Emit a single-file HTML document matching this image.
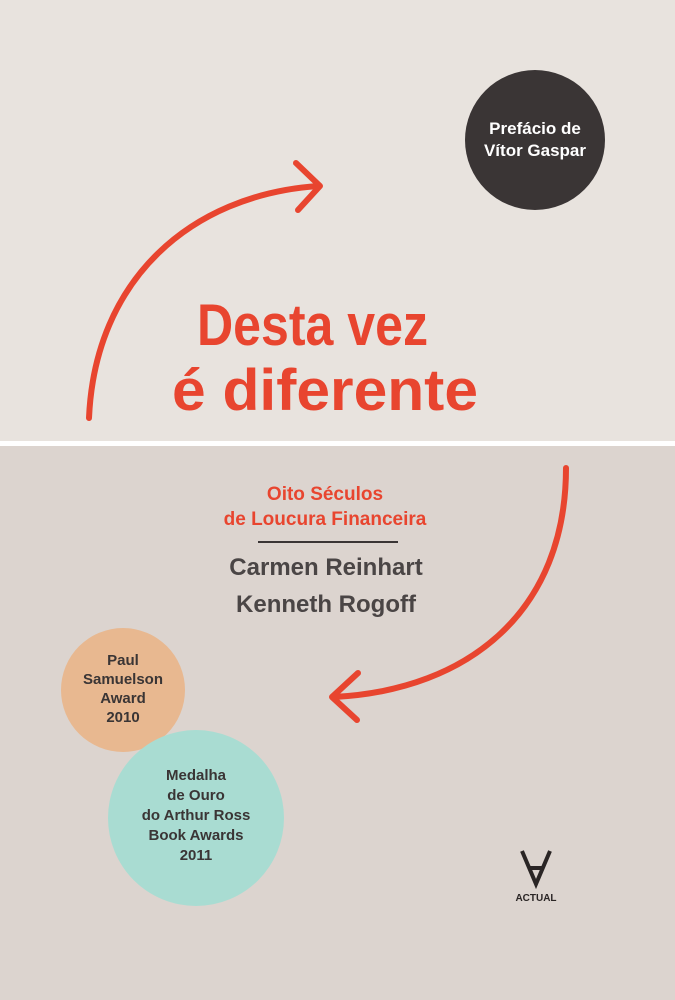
<!DOCTYPE html>
<html><head><meta charset="utf-8"><style>
body{margin:0;width:675px;height:1000px;overflow:hidden}
svg{display:block}
text{font-family:"Liberation Sans","DejaVu Sans",sans-serif;font-weight:bold}
</style></head><body>
<svg width="675" height="1000" viewBox="0 0 675 1000">
<rect width="675" height="441" fill="#e8e3de"/>
<rect y="441" width="675" height="5" fill="#ffffff"/>
<rect y="446" width="675" height="554" fill="#dcd4cf"/>
<g fill="none" stroke="#e8452f" stroke-width="6" stroke-linecap="round" stroke-linejoin="round">
<path d="M89 418 C95 280 190 195 318 186"/>
<path d="M296 163 L320 186 L298 210"/>
<path d="M566 468 C566 610 470 690 334 697"/>
<path d="M358 673 L332 697 L357 720"/>
</g>
<circle cx="535" cy="140" r="70" fill="#3a3535"/>
<text x="535" y="134" fill="#fff" font-size="17" text-anchor="middle">Prefácio de</text>
<text x="535" y="156" fill="#fff" font-size="17" text-anchor="middle">Vítor Gaspar</text>
<text x="197" y="345" fill="#e8452f" font-size="58" textLength="231" lengthAdjust="spacingAndGlyphs">Desta vez</text>
<text x="172" y="410" fill="#e8452f" font-size="58" textLength="306" lengthAdjust="spacingAndGlyphs">é diferente</text>
<text x="325" y="500" fill="#e8452f" font-size="19" text-anchor="middle">Oito Séculos</text>
<text x="325" y="525" fill="#e8452f" font-size="19" text-anchor="middle">de Loucura Financeira</text>
<rect x="258" y="541" width="140" height="2" fill="#3a3535"/>
<text x="326" y="575" fill="#4a4545" font-size="24" text-anchor="middle">Carmen Reinhart</text>
<text x="326" y="612" fill="#4a4545" font-size="24" text-anchor="middle">Kenneth Rogoff</text>
<circle cx="123" cy="690" r="62" fill="#e8b890"/>
<g fill="#3a3535" font-size="15" text-anchor="middle">
<text x="123" y="665">Paul</text>
<text x="123" y="684">Samuelson</text>
<text x="123" y="703">Award</text>
<text x="123" y="722">2010</text>
</g>
<circle cx="196" cy="818" r="88" fill="#a9dcd2"/>
<g fill="#3a3535" font-size="15" text-anchor="middle">
<text x="196" y="780">Medalha</text>
<text x="196" y="800">de Ouro</text>
<text x="196" y="820">do Arthur Ross</text>
<text x="196" y="840">Book Awards</text>
<text x="196" y="860">2011</text>
</g>
<g fill="none" stroke="#2a2525" stroke-width="4">
<path d="M522 851 L536 884 L550 851"/>
<path d="M529 868 L543 868"/>
</g>
<text x="536" y="901" fill="#2a2525" font-size="10" text-anchor="middle">ACTUAL</text>
</svg>
</body></html>
